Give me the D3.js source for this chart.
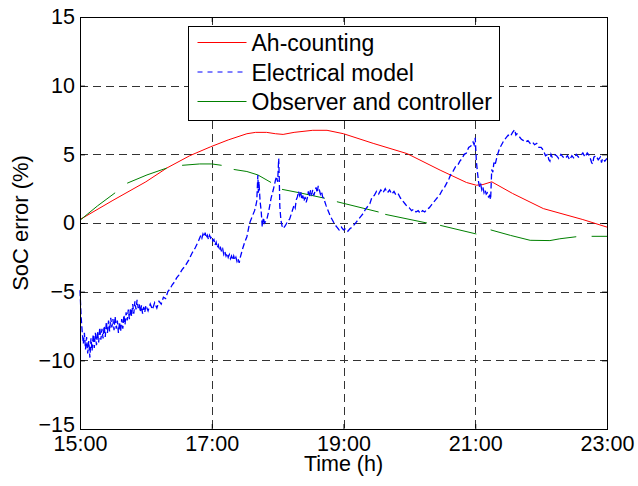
<!DOCTYPE html>
<html>
<head>
<meta charset="utf-8">
<script src="https://cdn.jsdelivr.net/npm/d3@7"></script>
<style>
  body { margin: 0; background: #fff; }
  text { font-family: Arial, 'Liberation Sans', sans-serif; }
</style>
</head>
<body>
<div class="chart"></div>
<script>
var margin = {top: 17, right: 31, bottom: 57, left: 80};
var width = 638 - margin.left - margin.right;
var height = 486 - margin.top - margin.bottom;

// time in minutes after 15:00, SoC error in %
let ahTime = [0, 30, 60, 79, 100, 119, 135, 152, 160, 170, 178, 185, 195, 212, 225, 240,
  267, 298, 328, 352, 361, 367, 375, 394, 422, 458, 480];
let ahSoc = [0.25, 1.65, 3.0, 4.0, 4.9, 5.55, 6.05, 6.5, 6.6, 6.6, 6.5, 6.45, 6.6, 6.75, 6.75, 6.5,
  5.8, 5.05, 3.85, 2.95, 2.75, 2.8, 3.0, 2.15, 1.05, 0.25, -0.3];

let modelTime = [0, 1, 2, 3, 4, 5, 6, 7, 8, 9, 10, 11, 12, 13, 14, 15, 16, 17, 18, 19,
  20, 21, 22, 23, 24, 25, 26, 27, 28, 29, 30, 31, 32, 33, 34, 35, 36, 37, 38, 39,
  40, 41, 42, 43, 44, 45, 46, 47, 48, 49, 50, 51, 52, 53, 54, 55, 56, 57, 58, 59,
  60, 62, 64, 66, 68, 70, 72, 74, 76, 78, 80, 82, 84, 86, 88, 90, 93, 96, 99, 102,
  105, 108, 110, 111, 112, 113, 114, 115, 116, 117, 118, 119, 120, 121, 122, 123, 124, 125, 126, 127,
  128, 129, 130, 131, 132, 133, 134, 135, 136, 137, 138, 139, 140, 141, 142, 143, 144, 145, 146, 147,
  148, 150, 152, 154, 155, 157, 159, 160, 161, 162, 162.5, 163, 164, 165, 166, 167, 168, 170, 172, 174,
  176, 178, 179, 180, 181, 181.5, 182, 183, 184, 185, 187, 189, 191, 193, 195, 196, 197, 198, 199, 200,
  201, 202, 203, 204, 205, 206, 207, 208, 209, 210, 211, 212, 213, 214, 215, 216, 217, 218, 219, 220,
  221, 222, 224, 226, 228, 230, 232, 234, 236, 238, 240, 242, 244, 246, 248, 250, 252, 254, 256, 258,
  260, 262, 264, 266, 268, 270, 272, 274, 276, 278, 280, 282, 284, 286, 288, 290, 292, 294, 296, 298,
  300, 302, 304, 306, 308, 310, 312, 314, 316, 318, 320, 322, 324, 326, 328, 330, 332, 334, 336, 338,
  340, 342, 344, 346, 348, 350, 352, 354, 356, 358, 359, 360, 361, 362, 363, 364, 365, 366, 367, 368,
  369, 370, 371, 372, 373, 374, 375, 376, 377, 378, 380, 382, 384, 386, 388, 390, 392, 394, 396, 397,
  398, 400, 402, 404, 406, 408, 410, 412, 414, 416, 418, 420, 422, 423, 424, 426, 427, 428, 429, 430,
  432, 434, 436, 438, 440, 442, 444, 446, 448, 450, 452, 454, 456, 458, 460, 462, 464, 466, 467, 468,
  470, 472, 474, 475, 476, 478, 480];
let modelSoc = [-4.9, -6.8, -7.9, -8.8, -8.0, -9.2, -8.3, -9.5, -8.6, -9.8, -8.4, -9.3, -8.1, -9.1, -8.0, -8.9, -7.9, -8.7, -7.6, -8.5,
  -7.7, -8.4, -7.5, -8.3, -7.2, -8.0, -7.1, -7.9, -6.9, -7.6, -7.0, -7.8, -6.8, -7.7, -7.1, -8.0, -7.2, -7.9, -7.0, -7.7,
  -6.7, -7.4, -6.5, -7.1, -6.3, -7.0, -6.2, -6.8, -5.9, -6.6, -5.7, -6.3, -5.6, -6.2, -5.9, -6.5, -6.0, -6.6, -6.1, -6.5,
  -6.0, -6.4, -5.9, -6.3, -5.8, -6.2, -5.7, -5.9, -5.4, -5.5, -5.0, -4.8, -4.5, -4.3, -4.0, -3.8, -3.4, -3.1, -2.7, -2.2,
  -1.8, -1.3, -0.9, -1.1, -0.8, -1.0, -0.7, -1.1, -0.9, -1.2, -0.9, -1.1, -1.0, -1.3, -1.2, -1.6, -1.4, -1.8, -1.6, -2.0,
  -1.8, -2.1, -1.9, -2.3, -2.1, -2.4, -2.2, -2.5, -2.3, -2.6, -2.4, -2.7, -2.4, -2.7, -2.5, -2.8, -2.6, -2.9, -2.5, -2.2,
  -1.9, -1.4, -1.0, -0.2, 0.1, 0.5, 0.9, 1.2, 1.6, 3.5, 2.2, 3.0, 1.6, 0.9, -0.3, 0.4, 0.0, 0.2, 0.9, 1.8,
  2.4, 3.1, 3.4, 3.0, 4.7, 3.2, 1.2, 0.2, -0.2, -0.4, -0.2, 0.1, 0.3, 0.8, 1.3, 1.1, 1.7, 1.9, 2.3, 2.0,
  2.3, 1.7, 2.0, 1.6, 1.9, 1.5, 1.8, 2.3, 1.9, 2.4, 2.1, 2.4, 2.0, 2.3, 2.6, 2.2, 2.7, 2.4, 2.1, 2.3,
  1.9, 1.8, 1.3, 0.9, 0.5, 0.2, -0.1, -0.3, -0.5, -0.3, -0.5, -0.4, -0.6, -0.4, -0.3, -0.1, 0.1, 0.3, 0.5, 0.7,
  1.0, 1.2, 1.4, 1.9, 2.0, 2.3, 2.1, 2.4, 2.2, 2.5, 2.2, 2.4, 2.1, 2.3, 2.0, 2.1, 1.8, 1.6, 1.4, 1.2,
  1.1, 0.9, 1.0, 0.8, 0.9, 0.7, 0.9, 0.8, 1.0, 1.1, 1.3, 1.5, 1.7, 1.9, 2.1, 2.4, 2.6, 2.9, 3.2, 3.6,
  3.8, 4.1, 4.2, 4.5, 4.7, 5.0, 5.1, 5.5, 5.6, 5.9, 5.7, 6.2, 4.5, 3.7, 3.0, 2.6, 2.8, 2.4, 2.6, 2.2,
  2.4, 2.1, 2.2, 1.9, 2.0, 1.7, 3.9, 3.7, 4.4, 4.2, 4.9, 5.4, 5.7, 6.0, 6.2, 6.4, 6.3, 6.6, 6.8, 6.4,
  6.5, 6.3, 6.1, 6.0, 5.9, 6.0, 5.8, 5.9, 5.7, 5.8, 5.5, 5.5, 5.3, 5.1, 4.9, 5.0, 4.6, 4.5, 5.0, 4.8,
  5.0, 4.9, 4.7, 5.0, 4.8, 4.7, 4.9, 4.6, 4.9, 4.7, 5.0, 4.8, 4.9, 5.1, 4.8, 5.1, 4.9, 4.4, 4.3, 4.8,
  4.9, 4.6, 4.8, 4.4, 4.7, 4.5, 4.7];

// null marks a break in the observer trace
let obsTime = [0, 16, 32, null, 43, 61, 79, null, 93, 109, 120, 129, null, 140, 152, 162, 174, null,
  184, 200, 223, null, 234, 272, null, 278, 316, null, 328, 361, null,
  374, 392, 410, 428, 437, 452, null, 466, 480];
let obsSoc = [0.2, 1.25, 2.2, null, 2.9, 3.5, 4.0, null, 4.2, 4.3, 4.3, 4.2, null, 3.9, 3.75, 3.5, 2.95, null,
  2.45, 2.2, 1.8, null, 1.55, 0.8, null, 0.63, 0.0, null, -0.17, -0.8, null,
  -0.5, -0.9, -1.26, -1.28, -1.15, -1.0, null, -0.97, -0.97];

let xTicks = [0, 120, 240, 360, 480];
let xTickLabels = ['15:00', '17:00', '19:00', '21:00', '23:00'];
let yTicks = [-15, -10, -5, 0, 5, 10, 15];
let seriesNames = ['Ah-counting', 'Electrical model', 'Observer and controller'];

let svg = d3.select('.chart')
  .append('svg')
  .attr('width', width + margin.left + margin.right)
  .attr('height', height + margin.top + margin.bottom)
  .append('g')
  .attr('transform', `translate(${margin.left}, ${margin.top})`);

let xScale = d3.scaleLinear().domain([0, 480]).range([0, width]);
let yScale = d3.scaleLinear().domain([-15, 15]).range([height, 0]);

// grid
svg.append('g')
  .selectAll('line')
  .data(xTicks.slice(1, -1))
  .enter()
  .append('line')
  .attr('x1', d => Math.round(xScale(d)) + 0.5)
  .attr('x2', d => Math.round(xScale(d)) + 0.5)
  .attr('y1', 0)
  .attr('y2', height)
  .style('stroke', '#333')
  .style('stroke-dasharray', '8,5');

svg.append('g')
  .selectAll('line')
  .data(yTicks.slice(1, -1))
  .enter()
  .append('line')
  .attr('y1', d => Math.round(yScale(d)) + 0.5)
  .attr('y2', d => Math.round(yScale(d)) + 0.5)
  .attr('x1', 0)
  .attr('x2', width)
  .style('stroke', '#333')
  .style('stroke-dasharray', '8,5');

// axes, ticks inside like matlab
let fmt = d => xTickLabels[xTicks.indexOf(d)];
let axes = [
  [d3.axisBottom(xScale).tickValues(xTicks).tickFormat(fmt).tickPadding(7), `translate(0, ${height})`],
  [d3.axisTop(xScale).tickValues(xTicks).tickFormat(''), 'translate(0, 0)'],
  [d3.axisLeft(yScale).tickValues(yTicks).tickPadding(5), 'translate(0, 0)'],
  [d3.axisRight(yScale).tickValues(yTicks).tickFormat(''), `translate(${width}, 0)`]
];
axes.forEach(a => {
  let g = svg.append('g')
    .attr('transform', a[1])
    .call(a[0].tickSizeInner(-5).tickSizeOuter(0));
  g.select('.domain').remove();
  g.selectAll('line').style('stroke', '#000');
  g.selectAll('text').style('font-size', '21.5px').style('fill', '#000');
});
// lift the bottom-most y label a little so it clears the 15:00 label
svg.selectAll('text').filter(d => d === -15).attr('dy', '0.1em');

let line = d3.line()
  .defined(d => d[0] !== null)
  .x(d => xScale(d[0]))
  .y(d => yScale(d[1]));

svg.append('path')
  .datum(ahTime.map((t, i) => [t, ahSoc[i]]))
  .attr('d', line)
  .style('fill', 'none')
  .style('stroke', '#ff0000')
  .style('stroke-width', 1);

svg.append('path')
  .datum(obsTime.map((t, i) => [t, obsSoc[i]]))
  .attr('d', line)
  .style('fill', 'none')
  .style('stroke', '#008000')
  .style('stroke-width', 1);

svg.append('path')
  .datum(modelTime.map((t, i) => [t, modelSoc[i]]))
  .attr('d', line)
  .style('fill', 'none')
  .style('stroke', '#0000ff')
  .style('stroke-width', 1.3)
  .style('stroke-dasharray', '6,3');

// frame
svg.append('rect')
  .attr('x', 0.5)
  .attr('y', 0.5)
  .attr('width', width)
  .attr('height', height)
  .style('fill', 'none')
  .style('stroke', '#000');

// legend
let legend = svg.append('g')
  .attr('transform', 'translate(108.5, 9.5)');

legend.append('rect')
  .attr('width', 311)
  .attr('height', 94)
  .style('fill', '#fff')
  .style('stroke', '#000');

let legendColors = ['#ff0000', '#0000ff', '#008000'];
let items = legend.selectAll('.item')
  .data(seriesNames)
  .enter()
  .append('g')
  .attr('class', 'item')
  .attr('transform', (d, i) => `translate(0, ${16 + i * 29.5})`);

items.append('line')
  .attr('x1', 9)
  .attr('x2', 58)
  .style('stroke', (d, i) => legendColors[i])
  .style('stroke-dasharray', (d, i) => i === 1 ? '5,5' : null);

items.append('text')
  .attr('x', 63)
  .attr('y', 8.5)
  .style('font-size', '23px')
  .text(d => d);

// axis labels
svg.append('text')
  .attr('x', width / 2)
  .attr('y', height + 42)
  .style('text-anchor', 'middle')
  .style('font-size', '21.5px')
  .text('Time (h)');

svg.append('text')
  .attr('transform', `translate(-52, ${height / 2}) rotate(-90)`)
  .style('text-anchor', 'middle')
  .style('font-size', '22px')
  .text('SoC error (%)');
</script>
</body>
</html>
